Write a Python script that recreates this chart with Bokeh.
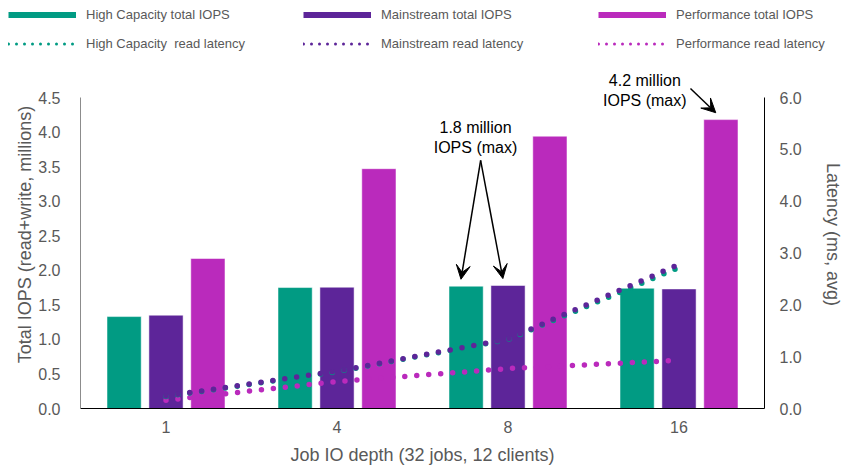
from bokeh.plotting import figure
from bokeh.models import (ColumnDataSource, Range1d, FactorRange, LinearAxis, FixedTicker,
                          Legend, LegendItem, Label, Arrow, VeeHead, NumeralTickFormatter)
from bokeh.transform import dodge
from bokeh.embed import file_html
from bokeh.resources import INLINE

# ---- data ----
depths = ["1", "4", "8", "16"]
hc_iops = [1.33, 1.75, 1.77, 1.74]
ms_iops = [1.35, 1.755, 1.78, 1.73]
pf_iops = [2.17, 3.47, 3.94, 4.18]
hc_lat = [0.23, 0.71, 1.33, 2.72]
ms_lat = [0.24, 0.72, 1.34, 2.78]
pf_lat = [0.16, 0.52, 0.77, 0.93]
iops_ticks = [0.0, 0.5, 1.0, 1.5, 2.0, 2.5, 3.0, 3.5, 4.0, 4.5]
lat_ticks = [0.0, 1.0, 2.0, 3.0, 4.0, 5.0, 6.0]
iops_max = 4.5
lat_max = 6.0

C_HC = "#019B83"
C_MS = "#5D2599"
C_PF = "#BA2ABC"
GRAY = "#595959"
FONT = "Liberation Sans"

W = 846
LEG_H = 60
MAIN_H = 410
FRAME_H = 348          # axis 0 .. max spans 311 px, the rest is head room for the notes
AXIS_H = 311
iops_top = iops_max * FRAME_H / AXIS_H
lat_top = lat_max * FRAME_H / AXIS_H

src = ColumnDataSource(dict(depth=depths, hc=hc_iops, ms=ms_iops, pf=pf_iops,
                            hcl=hc_lat, msl=ms_lat, pfl=pf_lat))

p = figure(width=W, height=MAIN_H, x_range=FactorRange(factors=depths, range_padding=0),
           y_range=Range1d(0, iops_top), output_backend="svg", toolbar_location=None,
           min_border_left=80, min_border_right=82, min_border_top=0, min_border_bottom=62)
p.extra_y_ranges = {"lat": Range1d(0, lat_top)}
p.grid.visible = False
p.outline_line_color = None

BW = 0.2
OFF = 0.245
p.vbar(x=dodge("depth", -OFF, range=p.x_range), top="hc", width=BW, source=src,
       fill_color=C_HC, line_color="white", line_alpha=0.5)
p.vbar(x=dodge("depth", 0, range=p.x_range), top="ms", width=BW, source=src,
       fill_color=C_MS, line_color="white", line_alpha=0.5)
p.vbar(x=dodge("depth", OFF, range=p.x_range), top="pf", width=BW, source=src,
       fill_color=C_PF, line_color="white", line_alpha=0.5)

for col, c in (("pfl", C_PF), ("hcl", C_HC), ("msl", C_MS)):
    p.line(x="depth", y=col, source=src, y_range_name="lat", line_color=c,
           line_width=5.5, line_dash="0 12", line_cap="round")


def style_axis(a, standoff, label_standoff):
    a.major_tick_line_color = None
    a.minor_tick_line_color = None
    a.major_label_standoff = standoff
    a.axis_label_standoff = label_standoff
    a.major_label_text_font_size = "16px"
    a.major_label_text_color = GRAY
    a.major_label_text_font = FONT
    a.axis_label_text_font_size = "18px"
    a.axis_label_text_font_style = "normal"
    a.axis_label_text_color = GRAY
    a.axis_label_text_font = FONT


xa = p.xaxis[0]
xa.axis_label = "Job IO depth (32 jobs, 12 clients)"
xa.axis_line_color = "black"
style_axis(xa, 6, 9)

ya = p.yaxis[0]
ya.ticker = FixedTicker(ticks=iops_ticks)
ya.formatter = NumeralTickFormatter(format="0.0")
ya.bounds = (0, iops_max)
ya.axis_label = "Total IOPS (read+write, millions)"
ya.axis_line_color = "#8C8C8C"
style_axis(ya, 14, 0)

ra = LinearAxis(y_range_name="lat", ticker=FixedTicker(ticks=lat_ticks),
                formatter=NumeralTickFormatter(format="0.0"), bounds=(0, lat_max))
ra.axis_label = "Latency (ms, avg)"
ra.axis_line_color = "black"
style_axis(ra, 9, 18)
p.add_layout(ra, "right")

# annotations
i8 = depths.index("8")
i16 = depths.index("16")
ax1 = i8 + 0.5 - 0.19
for k, t in enumerate(["1.8 million", "IOPS (max)"]):
    p.add_layout(Label(x=ax1, y=4.07 - 0.29 * k, text=t, text_align="center",
                       text_baseline="middle", text_font_size="16px",
                       text_font=FONT, text_color="black"))
for xe, ye in ((i8 + 0.5 - OFF - 0.03, hc_iops[i8]), (i8 + 0.5 - 0.03, ms_iops[i8])):
    p.add_layout(Arrow(end=VeeHead(size=14, fill_color="black", line_color="black"),
                       x_start=ax1 + 0.03, y_start=3.59, x_end=xe, y_end=ye + 0.1,
                       line_width=1.5, line_color="black"))

ax2 = i16 + 0.5 - 0.2
for k, t in enumerate(["4.2 million", "IOPS (max)"]):
    p.add_layout(Label(x=ax2, y=4.75 - 0.30 * k, text=t, text_align="center",
                       text_baseline="middle", text_font_size="16px",
                       text_font=FONT, text_color="black"))
p.add_layout(Arrow(end=VeeHead(size=14, fill_color="black", line_color="black"),
                   x_start=i16 + 0.5 + 0.067, y_start=4.63,
                   x_end=i16 + 0.5 + OFF - 0.03, y_end=pf_iops[i16] + 0.1,
                   line_width=1.5, line_color="black"))

# ---- legend strip (separate root, full-width frame) ----
lg = figure(width=W, height=LEG_H, x_range=Range1d(0, 1), y_range=Range1d(0, 1),
            output_backend="svg", toolbar_location=None, x_axis_type=None, y_axis_type=None,
            min_border=0, min_border_left=0, min_border_right=0, min_border_top=0,
            min_border_bottom=0)
lg.grid.visible = False
lg.outline_line_color = None


# swatch-only renderers: a single-point line draws nothing on the canvas
def dummy(color, dotted):
    if dotted:
        return lg.line(x=[-1], y=[-1], line_color=color, line_width=3, line_dash="0 8",
                       line_cap="round")
    return lg.line(x=[-1], y=[-1], line_color=color, line_width=6, line_cap="butt")


items = [
    LegendItem(label="High Capacity total IOPS", renderers=[dummy(C_HC, False)]),
    LegendItem(label="Mainstream total IOPS", renderers=[dummy(C_MS, False)]),
    LegendItem(label="Performance total IOPS", renderers=[dummy(C_PF, False)]),
    LegendItem(label="High Capacity  read latency", renderers=[dummy(C_HC, True)]),
    LegendItem(label="Mainstream read latency", renderers=[dummy(C_MS, True)]),
    LegendItem(label="Performance read latency", renderers=[dummy(C_PF, True)]),
]
leg = Legend(items=items, ncols=3, orientation="horizontal", location=(8, 9),
             background_fill_alpha=0, border_line_color=None, padding=0, margin=0,
             spacing=14, label_standoff=10, glyph_width=68, glyph_height=15,
             label_height=15, label_width=203, label_text_font_size="13px",
             label_text_color=GRAY, label_text_font=FONT)
lg.add_layout(leg, "center")

open("out.html", "w").write(file_html([lg, p], INLINE))
